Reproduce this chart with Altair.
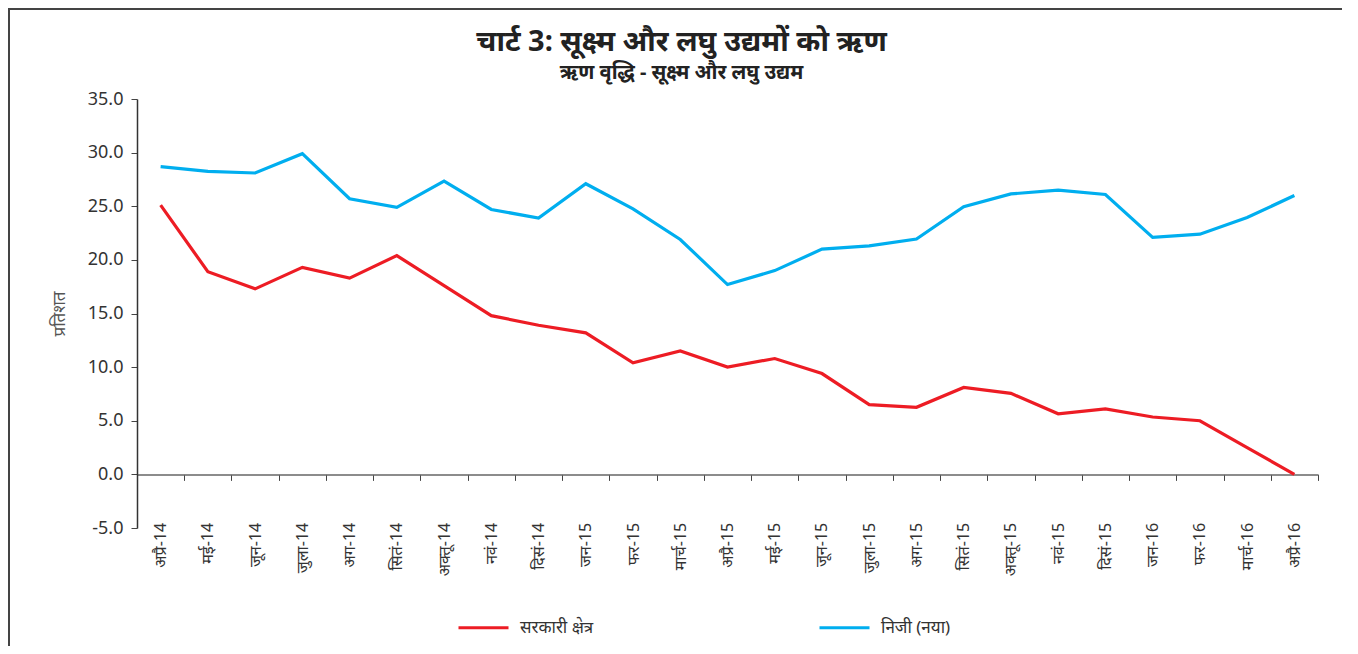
import altair as alt
import pandas as pd

months = ["अप्रै-14", "मई-14", "जून-14", "जुला-14", "अग-14", "सितं-14", "अक्तू-14", "नवं-14",
          "दिसं-14", "जन-15", "फर-15", "मार्च-15", "अप्रै-15", "मई-15", "जून-15", "जुला-15",
          "अग-15", "सितं-15", "अक्तू-15", "नवं-15", "दिसं-15", "जन-16", "फर-16", "मार्च-16", "अप्रै-16"]
public_sector = [25.1, 18.9, 17.3, 19.3, 18.3, 20.4, 17.6, 14.8, 13.9, 13.2, 10.4, 11.5, 10.0,
                 10.8, 9.4, 6.5, 6.25, 8.1, 7.55, 5.65, 6.1, 5.35, 5.0, 2.5, 0.0]
private_new = [28.7, 28.25, 28.1, 29.9, 25.7, 24.9, 27.35, 24.7, 23.9, 27.1, 24.75, 21.9, 17.7,
               19.0, 21.0, 21.3, 21.95, 24.95, 26.15, 26.5, 26.1, 22.1, 22.4, 23.95, 26.0]
series_names = ["सरकारी क्षेत्र", "निजी (नया)"]
series_colors = ["#ED1C24", "#00AEEF"]

rows = []
for m, a, b in zip(months, public_sector, private_new):
    rows.append({"month": m, "series": series_names[0], "value": a})
    rows.append({"month": m, "series": series_names[1], "value": b})
df = pd.DataFrame(rows)

W, H = 1181, 429
FONT = "Noto Sans"

x_enc = alt.X("month:N", sort=months, scale=alt.Scale(paddingInner=0, paddingOuter=0),
              axis=alt.Axis(title=None, labelAngle=270, labelAlign="right", labelBaseline="middle",
                            labelFontSize=16, labelColor="#333333", labelFont=FONT,
                            domainColor="#666666", domainWidth=1.5, tickColor="#444444",
                            tickBand="extent", tickSize=6, offset=-H * 5 / 40, labelPadding=42,
                            labelOverlap=False))
y_enc = alt.Y("value:Q", scale=alt.Scale(domain=[-5, 35], nice=False),
              axis=alt.Axis(title="प्रतिशत", values=[-5, 0, 5, 10, 15, 20, 25, 30, 35],
                            labelExpr="replace(format(datum.value, '.1f'), '\u2212', '-')",
                            labelFontSize=18, labelColor="#333333", labelFont=FONT, labelPadding=8,
                            titleFontSize=17, titleColor="#555555", titleFont=FONT,
                            titleFontWeight="normal", titlePadding=19,
                            domainColor="#333333", domainWidth=1.5, tickColor="#444444", tickSize=6,
                            grid=False))

lines = alt.Chart(df).mark_line(strokeWidth=3.2).encode(
    x=x_enc,
    y=y_enc,
    color=alt.Color("series:N", scale=alt.Scale(domain=series_names, range=series_colors),
                    legend=alt.Legend(title=None, orient="none", legendX=320, legendY=H + 73,
                                      direction="horizontal", symbolType="stroke",
                                      symbolSize=2500, symbolStrokeWidth=3,
                                      labelFontSize=17, labelColor="#333333", labelFont=FONT,
                                      labelOffset=10, columnPadding=219)),
)

frame = pd.DataFrame({"k": [0]})
left_border = alt.Chart(frame).mark_rule(color="#444444", strokeWidth=2).encode(
    x=alt.value(-128), y=alt.value(-91), y2=alt.value(H + 118))
top_border = alt.Chart(frame).mark_rule(color="#444444", strokeWidth=2).encode(
    x=alt.value(-129), x2=alt.value(W + 24), y=alt.value(-90))

chart = alt.layer(left_border, top_border, lines).properties(
    width=W, height=H,
    autosize=alt.AutoSizeParams(type="none"),
    padding={"left": 129, "top": 91, "right": 24, "bottom": 118},
    title=alt.TitleParams(text="चार्ट 3: सूक्ष्म और लघु उद्यमों को ऋण",
                          subtitle="ऋण वृद्धि - सूक्ष्म और लघु उद्यम",
                          anchor="middle", dx=-46, offset=-76,
                          fontSize=29, font=FONT, fontWeight="bold", color="#222222",
                          subtitleFontSize=20, subtitleFont=FONT, subtitleFontWeight="bold",
                          subtitleColor="#222222", subtitlePadding=6),
).configure(background="white", view=alt.ViewConfig(stroke=None))

chart.save("out.html", embed_options={"renderer": "svg", "actions": False})
